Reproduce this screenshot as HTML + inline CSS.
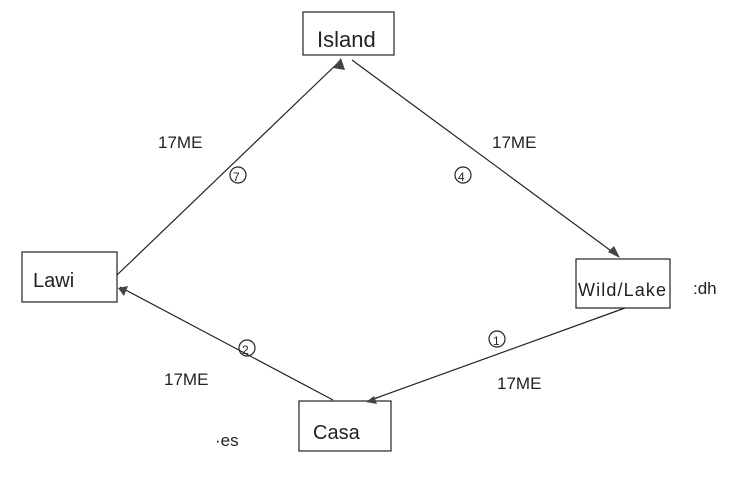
<!DOCTYPE html>
<html><head><style>
html,body{margin:0;padding:0;background:#fff;}
svg text{font-family:"Liberation Sans",sans-serif;fill:#222;}
</style></head><body>
<svg width="750" height="476" viewBox="0 0 750 476" xmlns="http://www.w3.org/2000/svg">
<g fill="none" stroke="#222" stroke-width="1.2">
<rect x="303" y="12" width="91" height="43"/>
<rect x="22" y="252" width="95" height="50"/>
<rect x="576" y="259" width="94" height="49"/>
<rect x="299" y="401" width="92" height="50"/>
<line x1="117" y1="275" x2="341" y2="60"/>
<line x1="352" y1="60" x2="618" y2="256"/>
<line x1="625" y1="308" x2="368" y2="401"/>
<line x1="333" y1="400" x2="120" y2="287"/>
<circle cx="238" cy="175" r="8"/>
<circle cx="463" cy="175" r="8"/>
<circle cx="247" cy="348" r="8"/>
<circle cx="497" cy="339" r="8"/>
</g>
<g fill="#444">
<polygon points="341,58 333,68 345,70"/>
<polygon points="620,258 608,252 614,246"/>
<polygon points="366,402 374,396 377,404"/>
<polygon points="118,288 128,286 124,296"/>
</g>
<text x="317" y="47" font-size="22">Island</text>
<text x="33" y="287" font-size="20">Lawi</text>
<text x="578" y="296" font-size="18" textLength="88">Wild/Lake</text>
<text x="313" y="439" font-size="20">Casa</text>
<text x="158" y="148" font-size="17">17ME</text>
<text x="492" y="148" font-size="17">17ME</text>
<text x="164" y="385" font-size="17">17ME</text>
<text x="497" y="389" font-size="17">17ME</text>
<text x="233" y="181" font-size="12">7</text>
<text x="458" y="181" font-size="12">4</text>
<text x="242" y="354" font-size="12">2</text>
<text x="493" y="345" font-size="12">1</text>
<text x="693" y="294" font-size="17">:dh</text>
<text x="215" y="446" font-size="17">·es</text>
</svg>
</body></html>
